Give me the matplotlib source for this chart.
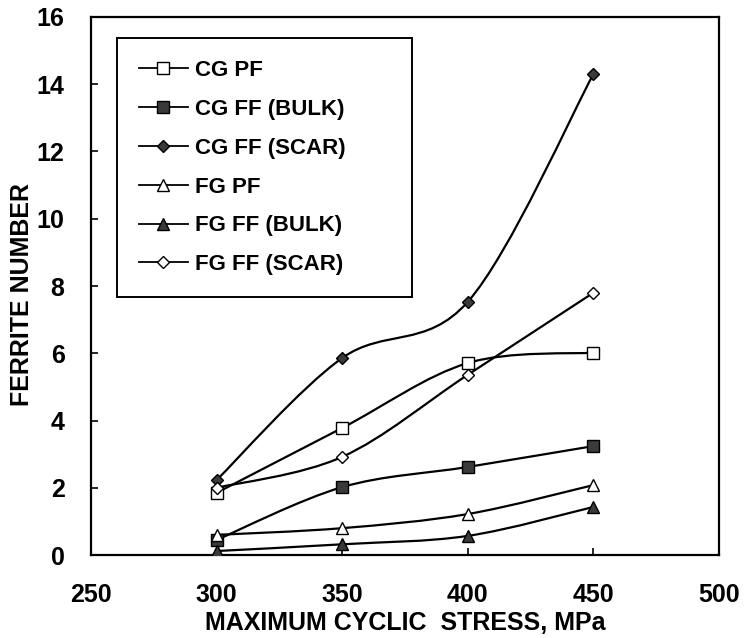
import numpy as np
import matplotlib
matplotlib.use('Agg')
import matplotlib.pyplot as plt
from matplotlib import font_manager
from matplotlib.path import Path
from matplotlib.patches import PathPatch
from matplotlib.lines import Line2D

# данные
stress = [300, 350, 400, 450]
cg_pf = [1.85, 3.78, 5.71, 6.02]
cg_ff_bulk = [0.45, 2.02, 2.62, 3.24]
cg_ff_scar = [2.23, 5.86, 7.53, 14.3]
fg_pf = [0.6, 0.8, 1.22, 2.08]
fg_ff_bulk = [0.12, 0.32, 0.57, 1.43]
fg_ff_scar = [2.0, 2.92, 5.36, 7.8]

labels = ['CG PF', 'CG FF (BULK)', 'CG FF (SCAR)',
          'FG PF', 'FG FF (BULK)', 'FG FF (SCAR)']
series = [cg_pf, cg_ff_bulk, cg_ff_scar, fg_pf, fg_ff_bulk, fg_ff_scar]
markers = ['s', 's', 'D', '^', '^', 'D']
faces = ['white', '#3a3a3a', '#3a3a3a', 'white', '#3a3a3a', 'white']
msizes = [8, 8, 6.5, 8, 8, 6.5]


def smooth_path(x, y):
    # сглаженная линия как в Excel (Catmull-Rom -> кривые Безье)
    pts = list(zip(x, y))
    verts = [pts[0]]
    codes = [Path.MOVETO]
    n = len(pts)
    for i in range(n - 1):
        p0 = pts[i - 1] if i > 0 else pts[i]
        p1 = pts[i]
        p2 = pts[i + 1]
        p3 = pts[i + 2] if i + 2 < n else pts[i + 1]
        c1 = (p1[0] + (p2[0] - p0[0]) / 6, p1[1] + (p2[1] - p0[1]) / 6)
        c2 = (p2[0] - (p3[0] - p1[0]) / 6, p2[1] - (p3[1] - p1[1]) / 6)
        verts += [c1, c2, p2]
        codes += [Path.CURVE4] * 3
    return Path(verts, codes)


# узкий жирный шрифт для подписей делений, если есть
names = {f.name for f in font_manager.fontManager.ttflist}
tick_font = {'family': 'Liberation Sans', 'weight': 'bold', 'size': 18}
for cand in ['Liberation Sans Narrow', 'Arial Narrow', 'DejaVu Sans Condensed']:
    if cand in names:
        tick_font = {'family': cand, 'weight': 'bold', 'size': 19}
        break

fig = plt.figure(figsize=(7.47, 6.38), dpi=100)
ax = fig.add_axes([0.1218, 0.130, 0.8407, 0.8434])

handles = []
for vals, lab, m, fc, ms in zip(series, labels, markers, faces, msizes):
    ax.add_patch(PathPatch(smooth_path(stress, vals), facecolor='none',
                           edgecolor='black', lw=1.6, zorder=2))
    ax.plot(stress, vals, linestyle='none', marker=m, markersize=ms,
            markerfacecolor=fc, markeredgecolor='black', markeredgewidth=1.0, zorder=3)
    handles.append(Line2D([], [], color='black', lw=1.3, marker=m, markersize=ms,
                          markerfacecolor=fc, markeredgecolor='black'))

ax.set_xlim(250, 500)
ax.set_ylim(0, 16)
ax.set_xticks([250, 300, 350, 400, 450, 500])
ax.set_yticks(range(0, 17, 2))

ax.set_xticklabels([str(v) for v in ax.get_xticks().astype(int)], fontdict=tick_font)
ax.set_yticklabels([str(v) for v in ax.get_yticks().astype(int)], fontdict=tick_font)
ax.tick_params(direction='in', length=5, width=1.2)
ax.tick_params(axis='x', pad=20)
ax.tick_params(axis='y', pad=19)
for s in ax.spines.values():
    s.set_linewidth(1.6)

lab_font = {'family': 'Liberation Sans', 'weight': 'bold', 'size': 18}
ax.set_xlabel('MAXIMUM CYCLIC  STRESS, MPa', fontdict=lab_font, labelpad=3)
ax.set_ylabel('FERRITE NUMBER', fontdict=lab_font)
ax.yaxis.set_label_coords(-0.09, 0.485)

leg = ax.legend(handles, labels, loc='upper left',
                bbox_to_anchor=(0.041, 0.522, 0.47, 0.439), mode='expand',
                prop={'family': 'Liberation Sans', 'weight': 'bold', 'size': 16},
                frameon=True, fancybox=False, edgecolor='black', framealpha=1,
                handlelength=2.2, handletextpad=0.3, labelspacing=0.8,
                borderpad=1.0, borderaxespad=0)
leg.get_frame().set_linewidth(1.4)

fig.savefig('out.png', dpi=100)
